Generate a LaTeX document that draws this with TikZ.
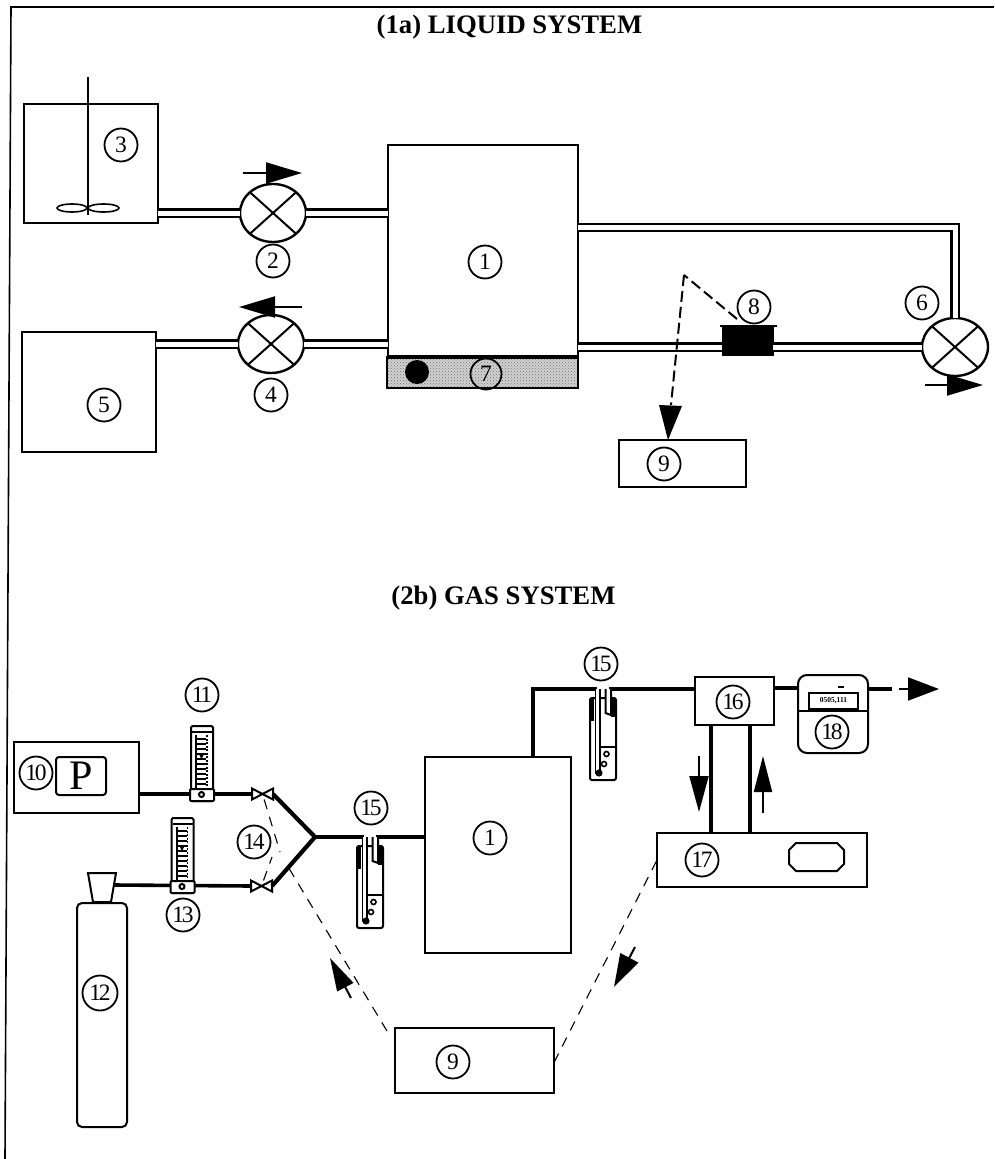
\documentclass[tikz,border=0pt]{standalone}
\usepackage{fontspec}
\setmainfont{Liberation Serif}
\newfontfamily\numfont[LetterSpace=-10]{Liberation Serif}
\usetikzlibrary{arrows.meta,shapes.geometric,patterns}
\tikzset{
  every node/.style={inner sep=0pt,outer sep=0pt},
  boxn/.style={draw,line width=2pt,fill=white,rectangle},
  num/.style={draw,circle,line width=1.8pt,minimum size=33pt,fill=white,font=\numfont\fontsize{23.5}{24}\selectfont},
  numclear/.style={draw,circle,line width=1.8pt,minimum size=31pt,font=\numfont\fontsize{23.5}{24}\selectfont},
  ttl/.style={font=\fontsize{26.7}{30}\selectfont\bfseries},
  pump/.style={draw,ellipse,line width=2.4pt,minimum width=66pt,minimum height=58pt,fill=white},
  xline/.style={line width=2pt},
  dpipe/.style={double,double distance=5pt,line width=2.4pt},
  gpipe/.style={line width=3.6pt},
  thinpipe/.style={line width=3pt},
  flowarrow/.style={line width=2pt,-{Triangle[length=36pt,width=21pt]}},
  dashthin/.style={line width=1.1pt,dash pattern=on 10pt off 8pt},
  dashthick/.style={line width=2pt,dash pattern=on 11pt off 5pt},
  valve/.style={minimum width=21pt,minimum height=11pt},
  flowmeter/.pic={
    \draw[line width=2pt,fill=white,rounded corners=1.5pt] (0,0) rectangle (22,75);
    \draw[line width=2.5pt] (1,6) -- (21,6);
    \draw[line width=2pt] (5,9) -- (5,63);
    \draw[line width=1.2pt,dash pattern=on 2pt off 1.5pt] (16,9) -- (16,63);
    \foreach \yy in {13,18,...,58} {\draw[line width=2pt] (5,\yy) -- (15,\yy);}
    \fill (8,28) -- (13,28) -- (10.5,33) -- cycle;
    \draw[line width=2pt,fill=white,rounded corners=1pt] (-1,63) rectangle (23,75);
    \draw[line width=2pt] (10.5,68.5) circle (2.5pt);
  },
  bubbler/.pic={
    \draw[line width=2pt,fill=white,rounded corners=2pt] (-13,9) rectangle (13,91);
    \fill (-13,9) rectangle (-9.5,32);
    \fill (8,9) rectangle (13,28);
    \draw[line width=1.6pt,fill=white] (-7.5,0) -- (-7.5,84) -- (-3,84) -- (-3,0);
    \draw[line width=2pt,fill=white] (2.5,0) -- (2.5,24) -- (8,26) -- (8,0);
    \draw[line width=1.3pt] (-3,58) -- (13,58);
    \draw[line width=1.6pt] (3.5,65) circle (2.5pt);
    \draw[line width=1.6pt] (1,75) circle (2.5pt);
    \draw[line width=2pt] (-4,84) circle (2.5pt);
  }
}
\begin{document}
\begin{tikzpicture}[x=1pt,y=-1pt]
\useasboundingbox (0,0) rectangle (994,1159);
% frame
\coordinate (fa) at (994,7);
\coordinate (fb) at (11,7);
\coordinate (fc) at (5,1159);
\draw[line width=1.6pt] (fa) -- (fb) -- (fc);
% titles
\node[ttl] (t1) at (509.5,27) {(1a) LIQUID SYSTEM};
\node[ttl] (t2) at (503.5,598.5) {(2b) GAS SYSTEM};

% ---------- liquid system ----------
\node[boxn,minimum width=134pt,minimum height=119pt] (b3) at (91,163.5) {};
\node[boxn,minimum width=134pt,minimum height=120pt] (b5) at (89,392) {};
\node[boxn,minimum width=190pt,minimum height=212pt] (b1u) at (483,251) {};
\node[draw,line width=2pt,preaction={fill=black!18},pattern=crosshatch dots,pattern color=black!55,minimum width=191pt,minimum height=31pt] (b7) at (482.5,372.5) {};
\draw[line width=3.4pt] (b7.north west) -- (b7.north east);
\node[boxn,minimum width=127pt,minimum height=47pt] (b9u) at (682.5,463.5) {};
\node[draw,fill=black,line width=1pt,minimum width=51pt,minimum height=29pt] (s8) at (747.5,340.5) {};
\coordinate (lipa) at (720,326);
\coordinate (lipb) at (777,326);
\draw[line width=2pt] (lipa) -- (lipb);

% stirrer
\coordinate (sha) at (87.5,77);
\coordinate (shb) at (87.5,215);
\draw[line width=2pt] (sha) -- (shb);
\node[draw,ellipse,line width=1.6pt,minimum width=30pt,minimum height=8pt] (imp1) at (72,208) {};
\node[draw,ellipse,line width=1.6pt,minimum width=31pt,minimum height=8pt] (imp2) at (103.5,208) {};

% pumps
\node[pump] (p2) at (273,213) {};
\node[pump] (p4) at (271,344) {};
\node[pump] (p6) at (955,347) {};
\foreach \p in {p2,p4,p6}{
  \draw[xline] (\p.42) -- (\p.222);
  \draw[xline] (\p.138) -- (\p.318);
}
% double pipes
\draw[dpipe] (b3.east |- p2.west) -- (p2.west);
\draw[dpipe] (p2.east) -- (b1u.west |- p2.east);
\draw[dpipe] (b5.east |- p4.west) -- (p4.west);
\draw[dpipe] (p4.east) -- (b1u.west |- p4.east);
\draw[dpipe] (b1u.east |- p6.west) -- (s8.west |- p6.west);
\draw[dpipe] (s8.east |- p6.west) -- (p6.west);
\coordinate (c6) at (955,227.5);
\draw[dpipe] (b1u.east |- c6) -- (c6) -- (p6.north);

% pump arrows
\coordinate (a2a) at (243,173); \coordinate (a2b) at (302,173);
\coordinate (a4a) at (302,307); \coordinate (a4b) at (239,307);
\coordinate (a6a) at (925,385); \coordinate (a6b) at (983,385);
\draw[flowarrow] (a2a) -- (a2b);
\draw[flowarrow] (a4a) -- (a4b);
\draw[flowarrow] (a6a) -- (a6b);

% sensor dashed signal
\coordinate (apex) at (684,275);
\coordinate (sigstart) at (737,319);
\draw[dashthick] (sigstart) -- (apex);
\coordinate (sigend) at (671,405);
\draw[dashthick] (apex) -- (sigend);
\coordinate (sigtip) at (668,440);
\fill (sigtip) -- (659,405) -- (682,406) -- cycle;

% dot
\node[circle,fill=black,minimum size=24pt] (dot) at (417,372) {};

% labels
\node[num] (n1u) at (485,262) {1};
\node[num] (n2) at (273,261) {2};
\node[num] (n3) at (121,145) {3};
\node[num] (n4) at (271,395) {4};
\node[num] (n5) at (104,405) {5};
\node[num] (n6) at (922,303) {6};
\node[numclear] (n7) at (486,374) {7};
\node[num] (n8) at (754,307) {8};
\node[num] (n9u) at (664,464) {9};

% ---------- gas system ----------
\node[boxn,minimum width=125pt,minimum height=71pt] (b10) at (76.5,777.5) {};
\node[draw,line width=2pt,rounded corners=3pt,minimum width=50pt,minimum height=38pt,font=\fontsize{42}{42}\selectfont] (pb) at (81,776) {P};
\node[boxn,minimum width=146pt,minimum height=196pt] (b1l) at (498,855) {};
\node[boxn,rounded corners=5pt,minimum width=50pt,minimum height=224pt] (b12) at (102,1015) {};
\node[boxn,minimum width=79pt,minimum height=48pt] (b16) at (734.5,701) {};
\node[boxn,rounded corners=9pt,minimum width=70pt,minimum height=78pt] (b18) at (833,714) {};
\node[boxn,minimum width=210pt,minimum height=54pt] (b17) at (762,860) {};
\node[boxn,minimum width=159pt,minimum height=65pt] (b9l) at (474.5,1060.5) {};

% cylinder valve
\draw[line width=2pt,fill=white] (88,873) -- (116,873) -- (111,902) -- (93,902) -- cycle;

% meter face
\coordinate (mda) at (b18.west |- 0,711);
\coordinate (mdb) at (b18.east |- 0,711);
\draw[line width=2pt] (mda) -- (mdb);
\node[draw,line width=2pt,fill=white,minimum width=49pt,minimum height=16pt,font=\fontsize{7.5}{8}\selectfont\bfseries] (disp) at (833.5,701) {0505,111};
\coordinate (mta) at (838,687); \coordinate (mtb) at (844,687);
\draw[line width=1.5pt] (mta) -- (mtb);

% octagon of 17
\draw[line width=2pt] (796,843) -- (837,843) -- (844,850) -- (844,864) -- (837,871) -- (796,871) -- (789,864) -- (789,850) -- cycle;

% valves
\node[valve] (v1) at (262.5,794) {};
\node[valve] (v2) at (261.5,886) {};
\foreach \v in {v1,v2}{
  \draw[line width=2pt] (\v.south west) -- (\v.north east) -- (\v.south east) -- (\v.north west) -- cycle;
}

% gas pipes
\coordinate (j) at (315,837);
\coordinate (cyl) at (114,885);
\coordinate (bi) at (364,837);
\coordinate (bo) at (376,837);
\coordinate (bi2) at (597,689);
\coordinate (bo2) at (609,689);
\coordinate (top) at (533,689);
\draw[gpipe] (b10.east |- v1.west) -- (v1.west);
\draw[gpipe] (cyl) -- (v2.west);
\draw[line width=4.2pt,line join=miter] (v1.east) -- (j) -- (v2.east);
\draw[gpipe] (j) -- (bi);
\draw[gpipe] (bo) -- (b1l.west |- bo);
\draw[gpipe,line join=miter] (top |- b1l.north) -- (top) -- (bi2);
\draw[gpipe] (bo2) -- (b16.west |- bo2);
\coordinate (m1) at (0,688);
\draw[line width=4pt] (b16.east |- m1) -- (b18.west |- m1);
\coordinate (out1) at (892,689);
\draw[line width=4pt] (b18.east |- out1) -- (out1);
\coordinate (arra) at (899,689); \coordinate (arrb) at (939,689);
\draw[line width=2pt,-{Triangle[length=31pt,width=23pt]}] (arra) -- (arrb);

% 16-17 pipes
\coordinate (pa) at (711,0);
\coordinate (pb2) at (750,0);
\draw[line width=4.4pt] (pa |- b16.south) -- (pa |- b17.north);
\draw[line width=3.6pt] (pb2 |- b16.south) -- (pb2 |- b17.north);
\coordinate (da) at (699,756); \coordinate (db) at (699,812);
\draw[line width=2pt,-{Triangle[length=36pt,width=19pt]}] (da) -- (db);
\coordinate (ua) at (763,813); \coordinate (ub) at (763,756);
\draw[line width=2pt,-{Triangle[length=36pt,width=18pt]}] (ua) -- (ub);

% instruments
\pic at (191,726) {flowmeter};
\pic at (171.5,818) {flowmeter};
\pic at (370,837) {bubbler};
\pic at (603,689) {bubbler};

% dashed signals
\coordinate (ds2) at (280,852);
\coordinate (ds4) at (272,857);
\coordinate (ds5) at (287,865);
\draw[dashthin] (v1) -- (ds2);
\draw[dashthin] (v2) -- (ds4);
\draw[dashthin] (b9l.north west) ++(-8,3) -- (ds5);
\draw[dashthin] (b9l.east) ++(0,2) -- (b17.west);
\coordinate (la) at (351,998); \coordinate (lb) at (330,958);
\draw[line width=2pt,-{Triangle[length=33pt,width=18pt]}] (la) -- (lb);
\coordinate (ra) at (635,947); \coordinate (rb) at (614,987);
\draw[line width=2pt,-{Triangle[length=33pt,width=20pt]}] (ra) -- (rb);

% gas labels
\node[num] (n1l) at (490,838) {1};
\node[num] (n9l) at (453,1062) {9};
\node[num] (n10) at (36,773) {10};
\node[num] (n11) at (202,695) {11};
\node[num,minimum height=35pt] (n12) at (100,993) {12};
\node[num] (n13) at (183,915) {13};
\node[num] (n14) at (254,842) {14};
\node[num] (n15a) at (371,808) {15};
\node[num] (n15b) at (601,664) {15};
\node[num] (n16) at (733,702) {16};
\node[num] (n17) at (702,860) {17};
\node[num] (n18) at (832,732) {18};
\end{tikzpicture}
\end{document}
